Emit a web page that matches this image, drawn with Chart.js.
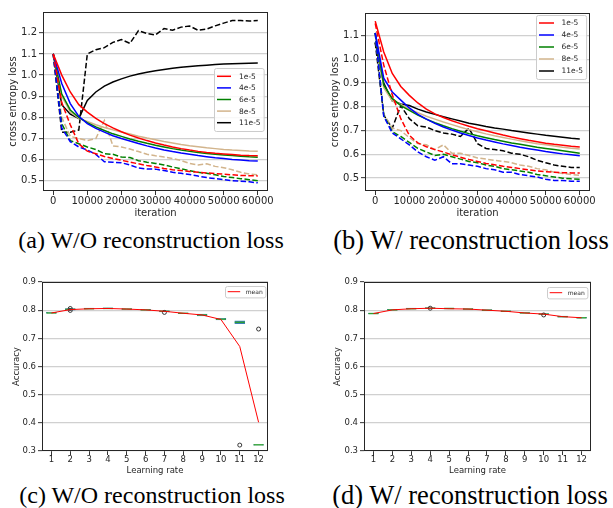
<!DOCTYPE html>
<html>
<head>
<meta charset="utf-8">
<title>Learning rate study</title>
<script src="https://cdn.jsdelivr.net/npm/chart.js@4.4.1/dist/chart.umd.min.js"></script>
<style>
  body { margin: 0; background: #fff; width: 613px; height: 508px; position: relative; overflow: hidden; }
  canvas { position: absolute; }
  .cap { position: absolute; font-family: "Liberation Serif", "Times New Roman", serif; font-size: 24px; line-height: 28px; color: #000; white-space: nowrap; transform: translateX(-50%); }
  .cap.wide { font-size: 26.5px; }
</style>
</head>
<body>
<canvas id="chartA" width="290" height="222" style="left:0;top:0"></canvas>
<canvas id="chartB" width="290" height="222" style="left:322px;top:0"></canvas>
<canvas id="chartC" width="290" height="210" style="left:0;top:270px"></canvas>
<canvas id="chartD" width="290" height="210" style="left:322px;top:270px"></canvas>
<div class="cap" style="left:151px;top:226px">(a) W/O reconstruction loss</div>
<div class="cap wide" style="left:471px;top:226px">(b) W/ reconstruction loss</div>
<div class="cap" style="left:152px;top:481px">(c) W/O reconstruction loss</div>
<div class="cap wide" style="left:470px;top:481px">(d) W/ reconstruction loss</div>

<script>
// ---- data ----
const iterations = [0, 2500, 5000, 7500, 10000, 12500, 15000, 17500, 20000, 22500, 25000, 27500, 30000,
  32500, 35000, 37500, 40000, 42500, 45000, 47500, 50000, 52500, 55000, 57500, 60000];
const iterTicks = [0, 10000, 20000, 30000, 40000, 50000, 60000];
const lrLabels = ['1e-5', '4e-5', '6e-5', '8e-5', '11e-5'];
const lineColors = ['#ff0000', '#0000ff', '#008000', '#d2b48c', '#000000'];

// (a) without reconstruction loss
const woSolid1 = [1.10, 1.00, 0.92, 0.86, 0.825, 0.795, 0.77, 0.75, 0.732, 0.716, 0.702, 0.69, 0.679, 0.669, 0.66, 0.652, 0.645, 0.639, 0.634, 0.63, 0.627, 0.624, 0.621, 0.619, 0.618];
const woSolid4 = [1.10, 0.96, 0.865, 0.805, 0.77, 0.748, 0.73, 0.713, 0.70, 0.688, 0.676, 0.665, 0.655, 0.646, 0.638, 0.631, 0.625, 0.619, 0.614, 0.609, 0.605, 0.601, 0.598, 0.595, 0.593];
const woSolid6 = [1.10, 0.91, 0.835, 0.80, 0.775, 0.755, 0.738, 0.722, 0.71, 0.698, 0.687, 0.677, 0.668, 0.66, 0.652, 0.645, 0.639, 0.634, 0.629, 0.625, 0.622, 0.619, 0.616, 0.613, 0.611];
const woSolid8 = [1.10, 0.90, 0.825, 0.795, 0.78, 0.765, 0.752, 0.741, 0.731, 0.721, 0.711, 0.702, 0.694, 0.686, 0.679, 0.672, 0.666, 0.661, 0.656, 0.652, 0.648, 0.645, 0.643, 0.641, 0.64];
const woSolid11 = [1.10, 0.86, 0.815, 0.795, 0.88, 0.92, 0.948, 0.967, 0.982, 0.995, 1.005, 1.013, 1.02, 1.026, 1.032, 1.037, 1.041, 1.044, 1.047, 1.05, 1.052, 1.054, 1.055, 1.056, 1.057];
const woDash1 = [1.10, 0.87, 0.765, 0.675, 0.64, 0.628, 0.615, 0.605, 0.597, 0.588, 0.58, 0.572, 0.565, 0.558, 0.552, 0.548, 0.544, 0.54, 0.537, 0.534, 0.531, 0.528, 0.525, 0.524, 0.523];
const woDash4 = [1.10, 0.75, 0.685, 0.66, 0.645, 0.625, 0.59, 0.588, 0.585, 0.575, 0.56, 0.556, 0.555, 0.548, 0.54, 0.535, 0.53, 0.522, 0.515, 0.51, 0.505, 0.50, 0.498, 0.495, 0.49];
const woDash6 = [1.10, 0.77, 0.69, 0.675, 0.66, 0.648, 0.628, 0.625, 0.612, 0.61, 0.595, 0.588, 0.582, 0.575, 0.565, 0.557, 0.548, 0.54, 0.535, 0.528, 0.52, 0.515, 0.51, 0.505, 0.50];
const woDash8 = [1.10, 0.80, 0.71, 0.70, 0.69, 0.70, 0.785, 0.665, 0.66, 0.65, 0.638, 0.625, 0.618, 0.612, 0.605, 0.596, 0.582, 0.575, 0.58, 0.568, 0.562, 0.552, 0.54, 0.532, 0.528];
const woDash11 = [1.10, 0.73, 0.73, 0.74, 1.10, 1.12, 1.13, 1.155, 1.168, 1.15, 1.21, 1.197, 1.19, 1.22, 1.212, 1.227, 1.232, 1.212, 1.218, 1.233, 1.246, 1.258, 1.258, 1.256, 1.258];

// (b) with reconstruction loss
const wSolid1 = [1.16, 1.03, 0.94, 0.885, 0.848, 0.816, 0.79, 0.77, 0.755, 0.741, 0.729, 0.718, 0.708, 0.699, 0.69, 0.681, 0.673, 0.666, 0.659, 0.653, 0.647, 0.642, 0.638, 0.634, 0.631];
const wSolid4 = [1.11, 0.92, 0.862, 0.828, 0.795, 0.768, 0.748, 0.73, 0.715, 0.702, 0.69, 0.679, 0.669, 0.66, 0.652, 0.644, 0.637, 0.63, 0.624, 0.618, 0.612, 0.607, 0.602, 0.598, 0.594];
const wSolid6 = [1.11, 0.89, 0.835, 0.805, 0.785, 0.765, 0.748, 0.733, 0.72, 0.708, 0.697, 0.687, 0.678, 0.67, 0.662, 0.655, 0.648, 0.642, 0.636, 0.63, 0.625, 0.62, 0.615, 0.61, 0.605];
const wSolid8 = [1.11, 0.88, 0.825, 0.81, 0.79, 0.775, 0.76, 0.748, 0.736, 0.725, 0.714, 0.704, 0.695, 0.686, 0.678, 0.671, 0.664, 0.657, 0.651, 0.645, 0.64, 0.635, 0.63, 0.626, 0.622];
const wSolid11 = [1.07, 0.90, 0.825, 0.812, 0.805, 0.79, 0.778, 0.768, 0.758, 0.749, 0.74, 0.731, 0.724, 0.717, 0.711, 0.706, 0.70, 0.695, 0.69, 0.685, 0.68, 0.676, 0.672, 0.668, 0.665];
const wDash1 = [1.15, 0.975, 0.85, 0.75, 0.68, 0.648, 0.632, 0.62, 0.61, 0.598, 0.588, 0.578, 0.57, 0.562, 0.556, 0.55, 0.545, 0.54, 0.535, 0.53, 0.527, 0.525, 0.523, 0.522, 0.522];
const wDash4 = [1.11, 0.76, 0.69, 0.665, 0.64, 0.61, 0.59, 0.575, 0.59, 0.56, 0.56, 0.555, 0.55, 0.54, 0.535, 0.525, 0.525, 0.515, 0.51, 0.505, 0.495, 0.49, 0.49, 0.487, 0.487];
const wDash6 = [1.11, 0.765, 0.695, 0.675, 0.65, 0.625, 0.61, 0.595, 0.60, 0.59, 0.58, 0.57, 0.565, 0.555, 0.55, 0.54, 0.535, 0.53, 0.525, 0.515, 0.51, 0.505, 0.50, 0.497, 0.495];
const wDash8 = [1.11, 0.77, 0.71, 0.70, 0.67, 0.645, 0.64, 0.62, 0.64, 0.605, 0.605, 0.595, 0.585, 0.58, 0.575, 0.57, 0.565, 0.555, 0.55, 0.54, 0.535, 0.525, 0.52, 0.515, 0.512];
const wDash11 = [1.07, 0.765, 0.71, 0.805, 0.75, 0.72, 0.715, 0.70, 0.69, 0.685, 0.675, 0.71, 0.645, 0.625, 0.62, 0.615, 0.605, 0.60, 0.59, 0.575, 0.565, 0.555, 0.55, 0.545, 0.545];

// (c), (d) accuracy per learning rate
const learningRates = [1, 2, 3, 4, 5, 6, 7, 8, 9, 10, 11, 12];
const accTicks = [0.3, 0.4, 0.5, 0.6, 0.7, 0.8, 0.9];
const woMean = [0.790, 0.802, 0.805, 0.806, 0.804, 0.801, 0.796, 0.789, 0.783, 0.767, 0.671, 0.402];
const woMedian = [0.790, 0.803, 0.805, 0.806, 0.804, 0.801, 0.796, 0.789, 0.783, 0.768, 0.757, 0.322];
const woQ1 = [0.789, 0.800, 0.804, 0.805, 0.803, 0.800, 0.794, 0.788, 0.780, 0.765, 0.752, 0.321];
const woQ3 = [0.792, 0.806, 0.807, 0.808, 0.806, 0.803, 0.798, 0.790, 0.786, 0.771, 0.762, 0.323];
const woOutliers = [[2, 0.806], [2, 0.799], [7, 0.792], [11, 0.321], [12, 0.733]];
const wMean = [0.788, 0.801, 0.805, 0.807, 0.805, 0.804, 0.800, 0.796, 0.790, 0.786, 0.777, 0.773];
const wMedian = [0.788, 0.801, 0.805, 0.807, 0.806, 0.804, 0.800, 0.796, 0.790, 0.786, 0.777, 0.773];
const wQ1 = [0.787, 0.800, 0.804, 0.806, 0.804, 0.803, 0.798, 0.795, 0.789, 0.785, 0.775, 0.772];
const wQ3 = [0.790, 0.803, 0.807, 0.809, 0.807, 0.806, 0.802, 0.798, 0.791, 0.788, 0.779, 0.775];
const wOutliers = [[4, 0.807], [10, 0.783]];

// ---- plugins ----
const frame = {
  id: 'frame',
  afterDatasetsDraw(chart) {
    const { ctx, chartArea: a } = chart;
    ctx.save();
    ctx.strokeStyle = '#262626';
    ctx.lineWidth = 1;
    ctx.strokeRect(Math.round(a.left) + 0.5, Math.round(a.top) + 0.5,
      Math.round(a.right - a.left) - 1, Math.round(a.bottom - a.top) - 1);
    ctx.restore();
  }
};

// matplotlib-like legend box inside the axes
const boxLegend = {
  id: 'boxLegend',
  afterDraw(chart, args, o) {
    const items = chart.data.datasets.filter(d => d.inLegend);
    if (!items.length) return;
    const ctx = chart.ctx, a = chart.chartArea;
    ctx.save();
    ctx.font = o.fontSize + 'px "DejaVu Sans"';
    const textW = Math.max(...items.map(d => ctx.measureText(d.label).width));
    const w = o.padX * 2 + o.handle + o.gap + textW;
    const h = o.padY * 2 + o.rowH * items.length;
    const x = Math.round(a.right - o.right - w), y = Math.round(a.top + o.top);
    ctx.fillStyle = 'rgba(255,255,255,0.85)';
    ctx.strokeStyle = '#cccccc';
    ctx.lineWidth = 1;
    ctx.beginPath();
    ctx.roundRect(x + 0.5, y + 0.5, w, h, 2);
    ctx.fill();
    ctx.stroke();
    items.forEach((d, i) => {
      const cy = y + o.padY + o.rowH * (i + 0.5);
      ctx.strokeStyle = d.borderColor;
      ctx.lineWidth = d.borderWidth;
      ctx.setLineDash([]);
      ctx.beginPath();
      ctx.moveTo(x + o.padX, cy);
      ctx.lineTo(x + o.padX + o.handle, cy);
      ctx.stroke();
      ctx.fillStyle = '#262626';
      ctx.textBaseline = 'middle';
      ctx.textAlign = 'left';
      ctx.fillText(d.label, x + o.padX + o.handle + o.gap, cy + 0.5);
    });
    ctx.restore();
  }
};

// ---- helpers ----
function toPoints(xs, ys) {
  return xs.map((x, i) => ({ x: x, y: ys[i] }));
}

function lossDatasets(solid, dashed) {
  const sets = [];
  lrLabels.forEach((lab, i) => {
    sets.push({
      label: lab, inLegend: true, data: toPoints(iterations, solid[i]),
      borderColor: lineColors[i], borderWidth: 1.5, pointRadius: 0, fill: false
    });
    sets.push({
      label: lab + ' (dashed)', data: toPoints(iterations, dashed[i]),
      borderColor: lineColors[i], borderWidth: 1.5, borderDash: [5.5, 2.4], pointRadius: 0, fill: false
    });
  });
  return sets;
}

function accDatasets(mean, median, q1, q3, outliers) {
  return [
    {
      type: 'line', label: 'mean', inLegend: true, order: 0,
      data: toPoints(learningRates, mean),
      borderColor: '#ff0000', borderWidth: 1, pointRadius: 0, fill: false
    },
    {
      type: 'scatter', label: 'outliers', order: 1,
      data: outliers.map(p => ({ x: p[0], y: p[1] })),
      pointStyle: 'circle', pointRadius: 2, borderColor: '#222', borderWidth: 0.9,
      backgroundColor: 'rgba(0,0,0,0)'
    },
    {
      type: 'scatter', label: 'median', order: 2,
      data: toPoints(learningRates, median),
      pointStyle: 'line', pointRadius: 5, borderColor: '#2ca02c', borderWidth: 1.3
    },
    {
      type: 'bar', label: 'box', order: 3,
      data: learningRates.map((x, i) => ({ x: x, y: [q1[i], q3[i]] })),
      barThickness: 10, borderSkipped: false, borderWidth: 1,
      borderColor: '#3b7fb6', backgroundColor: 'rgba(0,0,0,0)'
    }
  ];
}

function makeOptions(c) {
  const tickFont = { family: 'DejaVu Sans', size: c.font, lineHeight: 1 };
  const titleFont = { family: 'DejaVu Sans', size: c.font, lineHeight: 1.2 };
  return {
    responsive: false,
    animation: false,
    events: [],
    layout: { padding: { top: c.padTop, right: c.padRight, left: 0, bottom: 0 } },
    plugins: { legend: { display: false }, tooltip: { enabled: false }, boxLegend: c.legend },
    scales: {
      x: {
        type: 'linear', min: c.xMin, max: c.xMax, offset: false,
        afterBuildTicks: s => { s.ticks = c.xTicks.map(v => ({ value: v })); },
        afterFit: s => { s.height = c.xHeight; },
        grid: { drawOnChartArea: false, drawTicks: true, tickLength: 4, tickColor: '#333', tickWidth: 1, offset: false },
        border: { display: false },
        ticks: { font: tickFont, color: '#262626', padding: c.xTickPad, maxRotation: 0, autoSkip: false, callback: v => String(v) },
        title: { display: true, text: c.xTitle, font: titleFont, color: '#262626', padding: { top: 0, bottom: c.xTitlePad } }
      },
      y: {
        type: 'linear', min: c.yMin, max: c.yMax,
        afterBuildTicks: s => { s.ticks = c.yTicks.map(v => ({ value: v })); },
        afterFit: s => { s.width = c.yWidth; },
        grid: { color: '#d0d0d0', lineWidth: 1.3, drawTicks: true, tickLength: 4, tickColor: '#333', tickWidth: 1 },
        border: { display: false },
        ticks: { font: tickFont, color: '#262626', padding: 2, autoSkip: false, callback: v => v.toFixed(1) },
        title: { display: true, text: c.yTitle, font: titleFont, color: '#262626', padding: { top: c.yTitlePad, bottom: 0 } }
      }
    }
  };
}

const lossLegendA = { fontSize: 7.5, padX: 3, padY: 2.5, rowH: 11.6, handle: 14, gap: 8, right: 4, top: 56 };
const lossLegendB = { fontSize: 7.5, padX: 3, padY: 2, rowH: 12, handle: 15, gap: 7.5, right: 4, top: 2 };
const accLegendC = { fontSize: 6, padX: 2.7, padY: 1.2, rowH: 9, handle: 12.5, gap: 5.5, right: 2.3, top: 4 };
const accLegendD = { fontSize: 6, padX: 2.7, padY: 1.2, rowH: 9, handle: 12.5, gap: 5.5, right: 3.7, top: 4.5 };

new Chart(document.getElementById('chartA'), {
  type: 'line',
  data: { datasets: lossDatasets([woSolid1, woSolid4, woSolid6, woSolid8, woSolid11], [woDash1, woDash4, woDash6, woDash8, woDash11]) },
  options: makeOptions({
    font: 10, padTop: 12, padRight: 22, xHeight: 31, yWidth: 43,
    xMin: -3000, xMax: 63000, xTicks: iterTicks, xTickPad: 1, xTitle: 'iteration', xTitlePad: 3,
    yMin: 0.4515, yMax: 1.2985, yTicks: [0.5, 0.6, 0.7, 0.8, 0.9, 1.0, 1.1, 1.2], yTitle: 'cross entropy loss', yTitlePad: 7,
    legend: lossLegendA
  }),
  plugins: [frame, boxLegend]
});

new Chart(document.getElementById('chartB'), {
  type: 'line',
  data: { datasets: lossDatasets([wSolid1, wSolid4, wSolid6, wSolid8, wSolid11], [wDash1, wDash4, wDash6, wDash8, wDash11]) },
  options: makeOptions({
    font: 10, padTop: 13, padRight: 22, xHeight: 31, yWidth: 43,
    xMin: -3000, xMax: 63000, xTicks: iterTicks, xTickPad: 1, xTitle: 'iteration', xTitlePad: 3,
    yMin: 0.446, yMax: 1.194, yTicks: [0.5, 0.6, 0.7, 0.8, 0.9, 1.0, 1.1], yTitle: 'cross entropy loss', yTitlePad: 7,
    legend: lossLegendB
  }),
  plugins: [frame, boxLegend]
});

new Chart(document.getElementById('chartC'), {
  type: 'line',
  data: { datasets: accDatasets(woMean, woMedian, woQ1, woQ3, woOutliers) },
  options: makeOptions({
    font: 8.5, padTop: 12, padRight: 22, xHeight: 29, yWidth: 42,
    xMin: 0.5, xMax: 12.5, xTicks: learningRates, xTickPad: 1, xTitle: 'Learning rate', xTitlePad: 4,
    yMin: 0.3, yMax: 0.9, yTicks: accTicks, yTitle: 'Accuracy', yTitlePad: 11.5,
    legend: accLegendC
  }),
  plugins: [frame, boxLegend]
});

new Chart(document.getElementById('chartD'), {
  type: 'line',
  data: { datasets: accDatasets(wMean, wMedian, wQ1, wQ3, wOutliers) },
  options: makeOptions({
    font: 8.5, padTop: 12, padRight: 21, xHeight: 29, yWidth: 42,
    xMin: 0.5, xMax: 12.5, xTicks: learningRates, xTickPad: 1, xTitle: 'Learning rate', xTitlePad: 4,
    yMin: 0.3, yMax: 0.9, yTicks: accTicks, yTitle: 'Accuracy', yTitlePad: 11,
    legend: accLegendD
  }),
  plugins: [frame, boxLegend]
});
</script>
</body>
</html>
